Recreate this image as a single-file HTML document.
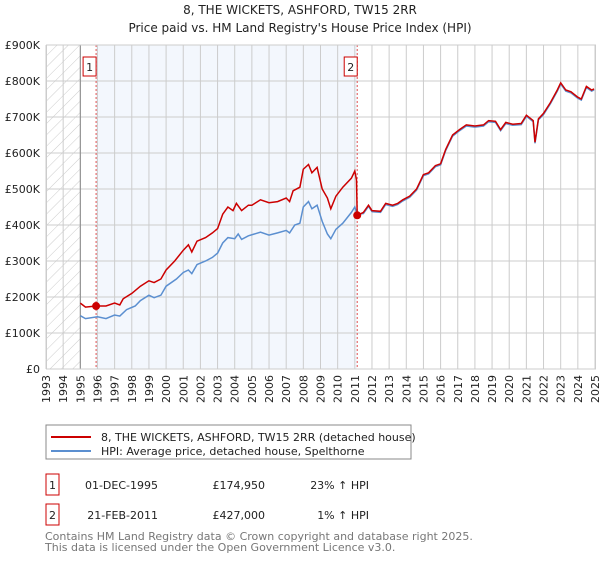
<!DOCTYPE html>
<html><head><meta charset="utf-8"><style>
body{margin:0;background:#fff;font-family:"Liberation Sans","DejaVu Sans",sans-serif;}
svg text{font-family:"DejaVu Sans","Liberation Sans",sans-serif;}
</style></head><body>
<svg id="c" width="600" height="560" xmlns="http://www.w3.org/2000/svg"></svg>
<script>
const redYears=[1995,1995.3,1995.92,1996.5,1997,1997.3,1997.5,1998,1998.5,1999,1999.3,1999.7,2000,2000.5,2001,2001.3,2001.5,2001.8,2002.3,2002.7,2003,2003.3,2003.6,2003.9,2004.1,2004.4,2004.8,2005,2005.5,2006,2006.5,2007,2007.2,2007.4,2007.8,2008,2008.3,2008.5,2008.8,2009.1,2009.4,2009.6,2009.9,2010.3,2010.8,2011,2011.1,2011.14,2011.5,2011.8,2012,2012.5,2012.8,2013.2,2013.5,2013.8,2014.2,2014.6,2015,2015.3,2015.7,2016,2016.3,2016.7,2017.1,2017.5,2018,2018.5,2018.8,2019.2,2019.5,2019.8,2020.2,2020.7,2021,2021.4,2021.5,2021.7,2022,2022.4,2022.8,2023,2023.3,2023.6,2024,2024.2,2024.5,2024.8,2024.95];
const redValues=[183,172,175,175,183,178,195,210,230,245,240,250,275,300,330,345,325,355,365,378,390,430,450,440,460,440,455,455,470,462,465,475,465,495,505,555,568,545,560,500,475,445,480,505,530,550,525,427,435,455,440,438,460,455,460,470,480,500,540,545,565,570,610,650,665,678,675,678,690,688,665,685,680,682,705,690,630,695,710,740,775,795,775,770,755,750,785,775,778];
const blueYears=[1995,1995.3,1996,1996.5,1997,1997.3,1997.7,1998.2,1998.5,1999,1999.3,1999.7,2000,2000.6,2001,2001.3,2001.5,2001.8,2002.3,2002.7,2003,2003.3,2003.6,2004,2004.2,2004.4,2004.8,2005.5,2006,2006.5,2007,2007.2,2007.5,2007.8,2008,2008.3,2008.5,2008.8,2009.1,2009.4,2009.6,2009.9,2010.3,2010.8,2011,2011.14,2011.5,2011.8,2012,2012.5,2012.8,2013.2,2013.5,2013.8,2014.2,2014.6,2015,2015.3,2015.7,2016,2016.3,2016.7,2017.1,2017.5,2018,2018.5,2018.8,2019.2,2019.5,2019.8,2020.2,2020.7,2021,2021.4,2021.5,2021.7,2022,2022.4,2022.8,2023,2023.3,2023.6,2024,2024.2,2024.5,2024.8,2024.95];
const blueValues=[148,140,145,140,150,147,165,175,190,205,198,205,230,250,268,275,265,290,300,310,322,350,365,362,375,360,370,380,372,378,385,378,400,405,450,465,445,455,410,375,362,388,405,435,450,430,432,452,437,435,457,452,457,467,477,497,537,542,562,567,607,647,662,675,672,675,687,685,662,682,677,679,702,687,627,692,707,737,772,792,772,767,752,747,782,772,775];
const yTicks=[0,100,200,300,400,500,600,700,800,900];
const yTickLabels=["£0","£100K","£200K","£300K","£400K","£500K","£600K","£700K","£800K","£900K"];
const xTicks=[1993,1994,1995,1996,1997,1998,1999,2000,2001,2002,2003,2004,2005,2006,2007,2008,2009,2010,2011,2012,2013,2014,2015,2016,2017,2018,2019,2020,2021,2022,2023,2024,2025];
const saleYears=[1995.92,2011.14];
const saleValues=[174.95,427];
const saleLabels=["1","2"];

const L=46,R=595,T=45,B=369;
const X=y=>L+(y-1993)/(2025-1993)*(R-L);
const Y=v=>B-v/900*(B-T);
const s=document.getElementById('c');const NS="http://www.w3.org/2000/svg";
function el(t,a,txt){const e=document.createElementNS(NS,t);for(const k in a)e.setAttribute(k,a[k]);if(txt!==undefined)e.textContent=txt;s.appendChild(e);return e;}
let e;
e=el('text',{x:300,y:14,'text-anchor':'middle','font-size':12,fill:'#222'},'8, THE WICKETS, ASHFORD, TW15 2RR');


e=el('text',{x:300,y:32,'text-anchor':'middle','font-size':12,fill:'#222'},"Price paid vs. HM Land Registry's House Price Index (HPI)");


// shaded ownership period
e=el('rect',{x:X(saleYears[0]),y:T,width:X(saleYears[1])-X(saleYears[0]),height:B-T,fill:'#eef3fc',opacity:0.7});


// hatch
const defs=el('defs',{});
const pat=document.createElementNS(NS,'pattern');pat.setAttribute('id','h');pat.setAttribute('width',8);pat.setAttribute('height',8);pat.setAttribute('patternUnits','userSpaceOnUse');pat.setAttribute('patternTransform','rotate(45)');
const pl=document.createElementNS(NS,'line');pl.setAttribute('x1',0);pl.setAttribute('y1',0);pl.setAttribute('x2',0);pl.setAttribute('y2',8);pl.setAttribute('stroke','#ccc');pat.appendChild(pl);defs.appendChild(pat);
e=el('rect',{x:L,y:T,width:X(1995)-L,height:B-T,fill:'url(#h)'});


xTicks.forEach(t=>{e=el('line',{x1:X(t),x2:X(t),y1:T,y2:B,stroke:'#ccc'});


e=el('text',{transform:`translate(${X(t)+4},${B+6}) rotate(-90)`,'text-anchor':'end','font-size':11,fill:'#222'},String(t));

});
yTicks.forEach((t,i)=>{e=el('line',{x1:L,x2:R,y1:Y(t),y2:Y(t),stroke:'#ccc'});


e=el('text',{x:L-6,y:Y(t)+4,'text-anchor':'end','font-size':11,fill:'#222'},yTickLabels[i]);

});
e=el('line',{x1:X(1995),x2:X(1995),y1:T,y2:B,stroke:'#888'});


saleYears.forEach((y,i)=>{e=el('line',{x1:X(y),x2:X(y),y1:T,y2:B,stroke:'#e05050','stroke-dasharray':'2,2'});


e=el('rect',{x:X(y)-13,y:57,width:13,height:19,fill:'#fff',stroke:'#cc0000'});


e=el('text',{x:X(y)-6.5,y:71,'text-anchor':'middle','font-size':11,fill:'#222'},saleLabels[i]);

});
const path=(xs,vs)=>xs.map((x,i)=>(i?'L':'M')+X(x).toFixed(1)+','+Y(vs[i]).toFixed(1)).join('');
e=el('path',{d:path(blueYears,blueValues),fill:'none',stroke:'#5b8fd0','stroke-width':1.5});


e=el('path',{d:path(redYears,redValues),fill:'none',stroke:'#cc0000','stroke-width':1.5});


saleYears.forEach((y,i)=>{e=el('circle',{cx:X(y),cy:Y(saleValues[i]),r:4,fill:'#cc0000'});

});
e=el('rect',{x:L+0.5,y:T,width:R-L,height:B-T,fill:'none',stroke:'#ccc'});


// legend
e=el('rect',{x:46,y:425,width:365,height:34,fill:'#fff',stroke:'#888'});


e=el('line',{x1:51,x2:91,y1:437,y2:437,stroke:'#cc0000','stroke-width':2});


e=el('text',{x:101,y:441,'font-size':11,fill:'#222'},'8, THE WICKETS, ASHFORD, TW15 2RR (detached house)');


e=el('line',{x1:51,x2:91,y1:451,y2:451,stroke:'#5b8fd0','stroke-width':2});


e=el('text',{x:101,y:455,'font-size':11,fill:'#222'},'HPI: Average price, detached house, Spelthorne');


const rows=[["1","01-DEC-1995","£174,950","23% ↑ HPI",483],["2","21-FEB-2011","£427,000","1% ↑ HPI",513]];
rows.forEach(r=>{e=el('rect',{x:46,y:r[4]-9,width:13,height:21,fill:'#fff',stroke:'#cc0000'});


e=el('text',{x:52.5,y:r[4]+6,'text-anchor':'middle','font-size':11,fill:'#222'},r[0]);


e=el('text',{x:158,y:r[4]+6,'text-anchor':'end','font-size':11,fill:'#222'},r[1]);


e=el('text',{x:265,y:r[4]+6,'text-anchor':'end','font-size':11,fill:'#222'},r[2]);


e=el('text',{x:369,y:r[4]+6,'text-anchor':'end','font-size':11,fill:'#222'},r[3]);

});
e=el('text',{x:45,y:540,'font-size':11,fill:'#777'},'Contains HM Land Registry data © Crown copyright and database right 2025.');


e=el('text',{x:45,y:551,'font-size':11,fill:'#777'},'This data is licensed under the Open Government Licence v3.0.');


</script>
</body></html>
